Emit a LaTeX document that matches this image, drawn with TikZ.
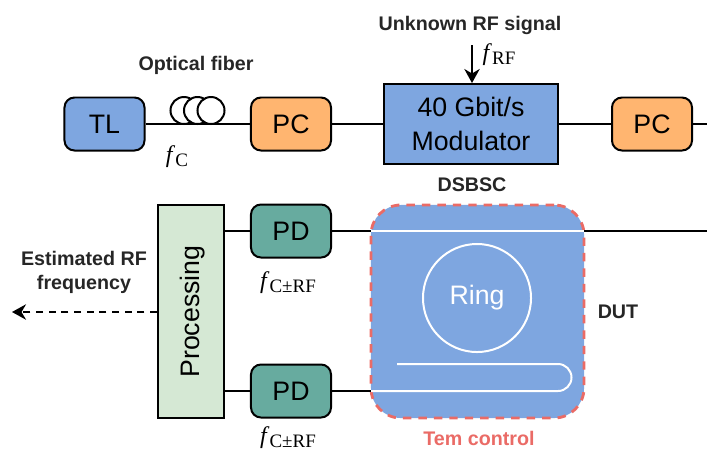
\documentclass[tikz,border=0pt]{standalone}
\usepackage{fontspec}
\setmainfont{Liberation Sans}
\newfontfamily\seriffont{Liberation Serif}
\usetikzlibrary{arrows.meta}

\definecolor{tlblue}{HTML}{7EA6E0}
\definecolor{pcorange}{HTML}{FFB570}
\definecolor{pdgreen}{HTML}{67AB9F}
\definecolor{proclight}{HTML}{D5E8D4}
\definecolor{temred}{HTML}{EA6B66}

\newcommand{\freq}[1]{{\seriffont\fontsize{17}{17}\selectfont\textit{f}\raisebox{-.35ex}{\fontsize{13.5}{13.5}\selectfont #1}}}

\tikzset{
	device/.style={draw=black,line width=1.42pt,rounded corners=0.25cm,minimum width=2cm,minimum height=1.325cm,inner sep=0pt,font=\fontsize{19}{22}\selectfont},
	fiberloop/.style={draw=black,fill=white,circle,line width=1.42pt,minimum size=0.675cm,inner sep=0pt},
	caption/.style={font=\bfseries\fontsize{14}{17}\selectfont,text=black!85,align=center,inner sep=0pt},
	link/.style={draw=black,line width=1.42pt},
	guide/.style={draw=white,line width=1.42pt}
}

\begin{document}
\begin{tikzpicture}[x=0.025cm,y=-0.025cm]
	\useasboundingbox (0,0) rectangle (707,450);

	    % upper row
	    \node[device,fill=tlblue] (tl) at (104.5,124) {TL};
	    \node[device,fill=pcorange] (pc1) at (291,124) {PC};
	    \node[draw=black,fill=tlblue,line width=1.42pt,minimum width=4.35cm,minimum height=2cm,inner sep=0pt,align=center,font=\fontsize{19}{24}\selectfont] (mod) at (471,124) {40 Gbit/s\\Modulator};
	    \node[device,fill=pcorange] (pc2) at (652,124) {PC};
	    \coordinate (out) at (707,124);

	    \draw[link] (tl) -- (pc1);
	    \draw[link] (pc1) -- (mod);
	    \draw[link] (mod) -- (pc2);
	    \draw[link] (pc2) -- (out);

	    \node[fiberloop] (loop1) at (184,110.5) {};
	    \node[fiberloop] (loop2) at (197.5,110.5) {};
	    \node[fiberloop] (loop3) at (211,110.5) {};

	    \node[caption] (fiber) at (196,65) {Optical fiber};
	    \node[inner sep=0pt] (fc) at (177,157) {\freq{C}};
	    \node[caption] (rf) at (470,25) {Unknown RF signal};
	    \node[inner sep=0pt] (frf) at (499,55) {\freq{RF}};
	    \coordinate (rfin) at (472,45);
	    \draw[link,-{Stealth[length=10pt,width=11pt]}] (rfin) -- (rfin|-mod.north);
	    \node[caption] (dsbsc) at (472,185) {DSBSC};

	    % ring chip
	    \node[draw=temred,fill=tlblue,line width=2pt,dash pattern=on 6pt off 5pt,rounded corners=0.75cm,minimum size=5.325cm,inner sep=0pt] (dut) at (477.5,311.5) {};
	    \coordinate (thru) at (371,231);
	    \coordinate (thrue) at (584,231);
	    \coordinate (drop) at (371,391);
	    \coordinate (dropend) at (397,364);
	    \draw[guide] (thru) -- (thrue);
	    \draw[guide] (drop) -- (558,391) arc[start angle=90,end angle=-90,radius=13.5] -- (dropend);
	    \node[draw=white,circle,line width=1.42pt,minimum size=2.7cm,inner sep=0pt,text=white,font=\fontsize{19}{22}\selectfont] (ring) at (477,298) {Ring};
	    \node[caption,text=temred] (tem) at (479,438) {Tem control};
	    \node[caption] (dutlabel) at (618,312) {DUT};

	    % lower row
	    \node[device,fill=pdgreen] (pd1) at (291,231) {PD};
	    \node[device,fill=pdgreen] (pd2) at (291,391) {PD};
	    \node[draw=black,fill=proclight,line width=1.42pt,rotate=90,minimum width=5.325cm,minimum height=1.65cm,inner sep=0pt,text height=16.6pt,text depth=4pt,font=\fontsize{19}{22}\selectfont] (proc) at (191,311.5) {Processing};

	    \draw[link] (proc.south|-pd1) -- (pd1);
	    \draw[link] (proc.south|-pd2) -- (pd2);
	    \draw[link] (pd1) -- (thru);
	    \draw[link] (pd2) -- (drop);
	    \coordinate (dutout) at (707,231);
	    \draw[link] (thrue) -- (dutout);

	    \node[inner sep=0pt] (fpm1) at (288,283) {\freq{C±RF}};
	    \node[inner sep=0pt] (fpm2) at (288,437.5) {\freq{C±RF}};

	    \node[caption] (est) at (84,272) {Estimated RF\\frequency};
	    \coordinate (estend) at (12,312);
	    \draw[link,dash pattern=on 5pt off 4pt,-{Stealth[length=10pt,width=11pt]}] (proc.north|-estend) -- (estend);

	\end{tikzpicture}
\end{document}
